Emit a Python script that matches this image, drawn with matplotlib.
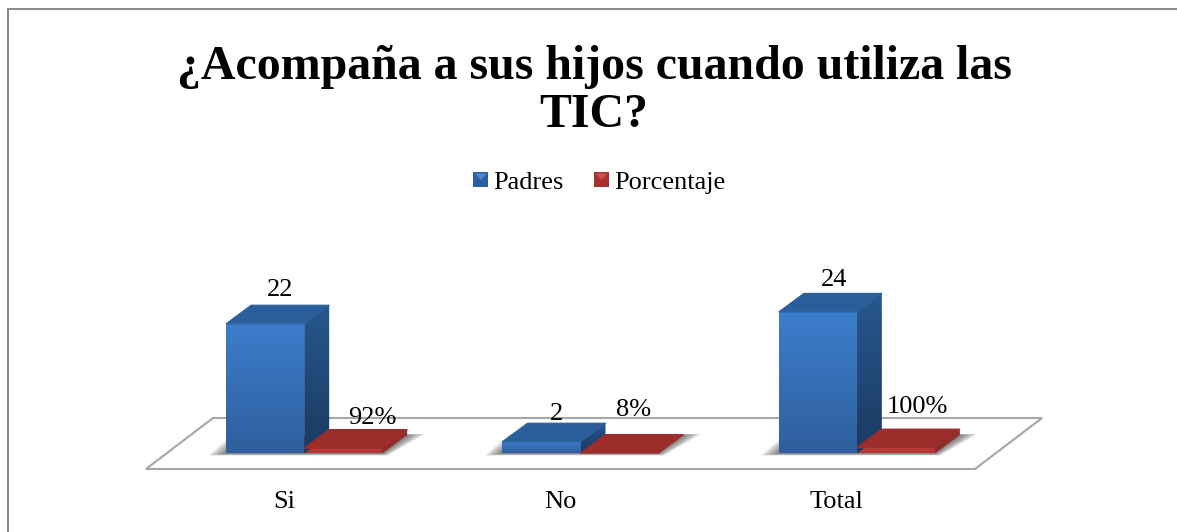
# -*- coding: utf-8 -*-
"""Pseudo-3D grouped bars: Acompaña a sus hijos cuando utiliza las TIC."""
import matplotlib
matplotlib.use("Agg")
import matplotlib.pyplot as plt
import numpy as np
from matplotlib.legend_handler import HandlerBase
from matplotlib.lines import Line2D
from matplotlib.patches import Patch, Polygon, Rectangle

plt.rcParams["font.family"] = ["Liberation Serif", "DejaVu Serif"]

CATEGORIES = ["Si", "No", "Total"]
PADRES = [22, 2, 24]
PORCENTAJE = [0.92, 0.08, 1.00]
PADRES_LABELS = ["22", "2", "24"]
PORCENTAJE_LABELS = ["92%", "8%", "100%"]
TITLE = "¿Acompaña a sus hijos cuando utiliza las\nTIC?"

W, H = 1177, 532
PX_X = 276.3       # pixels per category
PX_Y = 5.9         # pixels per value unit
BLUE = {"front": ("#3c7dcc", "#2f5f9e"), "side": ("#27588f", "#1b3a61"), "top": "#2b5f9c"}
RED = {"front": ("#c23c38", "#b23633"), "side": ("#96302c", "#8c2a27"), "top": "#9b2d2a"}

BAR_W = 78 / PX_X
DX = 25 / PX_X     # depth offset in x units
DY = 18.5 / PX_Y   # depth offset in y units
BAR_SHIFT = 20 / PX_X  # bars sit a bit right of the category centre

# label nudges in pixels, the original labels were moved by hand
PADRES_NUDGE = [(2.5, 15), (2.5, 9.5), (4, 13.5)]
PORCENTAJE_NUDGE = [(16.5, 11.5), (1.5, 24.5), (9.5, 22.5)]


def grad(ax, x0, x1, y0, y1, c_top, c_bot, poly):
    top = np.array(matplotlib.colors.to_rgb(c_top))
    bot = np.array(matplotlib.colors.to_rgb(c_bot))
    t = np.linspace(0, 1, 64)[:, None]
    img = (top * (1 - t) + bot * t)[:, None, :]
    im = ax.imshow(img, extent=(x0, x1, y0, y1), aspect="auto", zorder=4,
                   interpolation="bilinear")
    patch = Polygon(poly, closed=True, transform=ax.transData, fc="none", ec="none")
    ax.add_patch(patch)
    im.set_clip_path(patch)


def shadow(ax, x0, x1):
    # soft shadow on the floor, stacked translucent layers
    for k in np.linspace(1, 0.1, 10):
        gx = k * 18 / PX_X
        ax.add_patch(Polygon([(x0 - gx, -2 * k / PX_Y), (x1 + gx * 0.3, -2 * k / PX_Y),
                              (x1 + DX + gx, DY + k / PX_Y), (x0 - gx + DX, DY + k / PX_Y)],
                             closed=True, fc="#404040", ec="none", alpha=0.09, zorder=2))


def bar3d(ax, x0, v, st):
    x1 = x0 + BAR_W
    grad(ax, x1, x1 + DX, 0, v + DY, *st["side"],
         [(x1, 0), (x1 + DX, DY), (x1 + DX, v + DY), (x1, v)])
    ax.add_patch(Polygon([(x0, v), (x1, v), (x1 + DX, v + DY), (x0 + DX, v + DY)],
                         closed=True, fc=st["top"], ec=st["top"], lw=0.8, zorder=5,
                         joinstyle="round"))
    grad(ax, x0, x1, 0, v, *st["front"], [(x0, 0), (x1, 0), (x1, v), (x0, v)])


class KeyHandler(HandlerBase):
    # legend swatch: dark square with a lighter triangle coming from the top
    def create_artists(self, legend, orig, xd, yd, width, height, fontsize, trans):
        s = 15 * 0.72
        x0, y0 = width - s, -yd + (height - s) / 2
        sq = Rectangle((x0, y0), s, s, fc=orig.get_facecolor(), ec="none", transform=trans)
        tri = Polygon([(x0 + 1, y0 + s - 1), (x0 + s - 1, y0 + s - 1), (x0 + s / 2, y0 + s * 0.45)],
                      closed=True, fc=orig.get_edgecolor(), ec="none", transform=trans)
        return [sq, tri]


fig = plt.figure(figsize=(W / 100, H / 100), dpi=100, facecolor="white")
# the picture is cropped: only the left and top edges of the chart frame are visible
fig.add_artist(Line2D([7.5 / W, 7.5 / W, 1], [0, 1 - 8.5 / H, 1 - 8.5 / H],
                      color="#8c8c8c", lw=1.5, solid_joinstyle="miter"))

# axes span the floor's front edge (x) and run from floor front up to y px 250
ax = fig.add_axes([146 / W, 1 - 469 / H, 829 / W, 219 / H])
ax.set_xlim(0, 3)
ax.set_ylim(-15.5 / PX_Y, (453.5 - 250) / PX_Y)
ax.axis("off")

y_front = -15.5 / PX_Y
y_back = 35.5 / PX_Y
off = 67 / PX_X
ax.add_patch(Polygon([(0, y_front), (3, y_front), (3 + off, y_back), (off, y_back)],
                     closed=True, fc="white", ec="#a6a6a6", lw=1.5, zorder=1, clip_on=False))

for i, cat in enumerate(CATEGORIES):
    left = i + 0.5 + BAR_SHIFT - BAR_W
    shadow(ax, left, left + 2 * BAR_W)
    bar3d(ax, left + BAR_W, PORCENTAJE[i], RED)
    bar3d(ax, left, PADRES[i], BLUE)
    ax.annotate(PADRES_LABELS[i], (left + BAR_W / 2 + DX / 2, PADRES[i] + DY),
                xytext=PADRES_NUDGE[i], textcoords="offset pixels",
                ha="center", va="center", fontsize=19, color="black", zorder=7)
    ax.annotate(PORCENTAJE_LABELS[i], (left + 1.5 * BAR_W + DX / 2, PORCENTAJE[i] + DY),
                xytext=PORCENTAJE_NUDGE[i], textcoords="offset pixels",
                ha="center", va="center", fontsize=19, color="black", zorder=7)
    ax.text(i + 0.5, y_front - 33 / PX_Y, cat, ha="center", va="center", fontsize=19,
            color="black", clip_on=False)

fig.text(594 / W, 1 - 91 / H, TITLE, ha="center", va="center", fontsize=34.5, fontweight="bold",
         color="black", linespacing=1.13)

handles = [Patch(fc="#2d5f9e", ec="#4a86d2", label="Padres"),
           Patch(fc="#a5302d", ec="#c9504c", label="Porcentaje")]
fig.legend(handles=handles, loc="center", bbox_to_anchor=(599 / W, 1 - 182 / H), ncol=2,
           frameon=False, fontsize=19, handler_map={Patch: KeyHandler()},
           handlelength=0.6, handletextpad=0.2, columnspacing=1.1)

fig.savefig("out.png", dpi=100)
